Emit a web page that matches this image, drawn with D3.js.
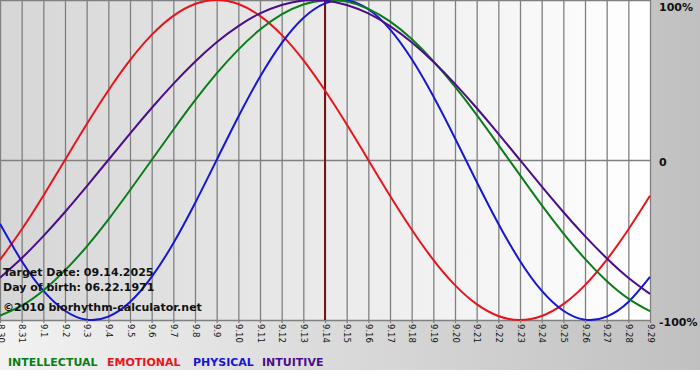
<!DOCTYPE html>
<html><head><meta charset="utf-8">
<script src="https://cdn.jsdelivr.net/npm/d3@7"></script>
<style>
html,body{margin:0;padding:0;background:#fff;}
svg{display:block;}
</style></head>
<body>
<script>
// ---- data ----
const dates = ["8.30","8.31","9.1","9.2","9.3","9.4","9.5","9.6","9.7","9.8","9.9","9.10","9.11","9.12","9.13","9.14","9.15","9.16","9.17","9.18","9.19","9.20","9.21","9.22","9.23","9.24","9.25","9.26","9.27","9.28","9.29"];
const physical = [-0.398,-0.631,-0.817,-0.942,-0.998,-0.979,-0.888,-0.731,-0.520,-0.270,0,0.270,0.520,0.731,0.888,0.979,0.998,0.942,0.817,0.631,0.398,0.136,-0.136,-0.398,-0.631,-0.817,-0.942,-0.998,-0.979,-0.888,-0.731];
const emotional = [-0.624,-0.434,-0.223,0,0.223,0.434,0.624,0.782,0.901,0.975,1,0.975,0.901,0.782,0.624,0.434,0.223,0,-0.223,-0.434,-0.624,-0.782,-0.901,-0.975,-1,-0.975,-0.901,-0.782,-0.624,-0.434,-0.223];
const intellectual = [-0.972,-0.910,-0.815,-0.690,-0.541,-0.372,-0.189,0,0.189,0.372,0.541,0.690,0.815,0.910,0.972,0.999,0.990,0.945,0.866,0.756,0.618,0.458,0.282,0.095,-0.095,-0.282,-0.458,-0.618,-0.756,-0.866,-0.945];
const intuitive = [-0.736,-0.614,-0.476,-0.325,-0.165,0,0.165,0.325,0.476,0.614,0.736,0.837,0.916,0.969,0.997,0.997,0.969,0.916,0.837,0.736,0.614,0.476,0.325,0.165,0,-0.165,-0.325,-0.476,-0.614,-0.736,-0.837];
const seriesNames = ["INTELLECTUAL","EMOTIONAL","PHYSICAL","INTUITIVE"];
const yTicks = [1, 0, -1];
const yTickLabels = ["100%", "0", "-100%"];
const targetDate = "9.14";
const infoLines = ["Target Date: 09.14.2025", "Day of birth: 06.22.1971", "\u00A92010 biorhythm-calculator.net"];

// ---- drawing ----
const W = 700, H = 380, plotW = 650, plotH = 320;
const colors = {INTELLECTUAL:"#0b7d18", EMOTIONAL:"#e8141c", PHYSICAL:"#1616d6", INTUITIVE:"#4b0d8a"};
const seriesData = {INTELLECTUAL:intellectual, EMOTIONAL:emotional, PHYSICAL:physical, INTUITIVE:intuitive};
const drawOrder = ["EMOTIONAL","PHYSICAL","INTELLECTUAL","INTUITIVE"];

const svg = d3.select("body").append("svg").attr("width", W).attr("height", H);
const defs = svg.append("defs");
const g1 = defs.append("linearGradient").attr("id","bgGrad").attr("x1","0").attr("x2","1").attr("y1","0").attr("y2","0");
g1.append("stop").attr("offset","0").attr("stop-color","#f2f2f2");
g1.append("stop").attr("offset","1").attr("stop-color","#c0c0c0");
const g2 = defs.append("linearGradient").attr("id","plotGrad").attr("x1","0").attr("x2","1").attr("y1","0").attr("y2","0");
g2.append("stop").attr("offset","0").attr("stop-color","#d6d6d6");
g2.append("stop").attr("offset","1").attr("stop-color","#ffffff");
defs.append("clipPath").attr("id","clip").append("rect").attr("x",0).attr("y",0).attr("width",plotW+1).attr("height",plotH+1);

svg.append("rect").attr("x",0).attr("y",0).attr("width",W).attr("height",370).attr("fill","url(#bgGrad)");
svg.append("rect").attr("x",0).attr("y",0).attr("width",plotW).attr("height",plotH).attr("fill","url(#plotGrad)");

const x = d3.scalePoint().domain(dates).range([0, plotW]);
const y = d3.scaleLinear().domain([-1, 1]).range([plotH, 0]);

// vertical grid
const grid = svg.append("g").attr("transform", `translate(0,${plotH})`)
  .call(d3.axisBottom(x).tickSizeInner(-plotH).tickSizeOuter(0).tickFormat(""));
grid.select(".domain").remove();
grid.selectAll("line").attr("stroke","#808080").attr("stroke-width",1.3);

// horizontal lines
const hgrid = svg.append("g").call(d3.axisLeft(y).tickValues(yTicks).tickSizeInner(-plotW).tickSizeOuter(0).tickFormat(""));
hgrid.select(".domain").remove();
hgrid.selectAll("line").attr("stroke","#808080").attr("stroke-width",1.3);

// target line
svg.append("line").attr("x1",x(targetDate)).attr("x2",x(targetDate)).attr("y1",0).attr("y2",plotH)
  .attr("stroke","#7a1212").attr("stroke-width",2);

// curves
const line = d3.line().x((d,i)=>x(dates[i])).y(d=>y(d)).curve(d3.curveNatural);
const curves = svg.append("g").attr("clip-path","url(#clip)");
drawOrder.forEach(n=>{
  curves.append("path").datum(seriesData[n]).attr("d", line)
    .attr("fill","none").attr("stroke", colors[n]).attr("stroke-width",2);
});

// x axis labels
const xa = svg.append("g").attr("transform", `translate(0,${plotH})`)
  .call(d3.axisBottom(x).tickSizeInner(3).tickSizeOuter(0));
xa.select(".domain").remove();
xa.selectAll("line").attr("stroke","#808080").attr("stroke-width",1.3);
xa.selectAll("text")
  .attr("transform","rotate(90)")
  .attr("x", 4).attr("y", 0).attr("dy","0.32em")
  .attr("text-anchor","start")
  .style("font-family","'DejaVu Sans', Verdana, sans-serif")
  .style("font-size","8.5px").attr("fill","#111");

// right labels
svg.append("g").selectAll("text").data(yTicks).join("text")
  .attr("x", 659).attr("y", (d)=>Math.max(y(d)+6, 11))
  .text((d,i)=>yTickLabels[i])
  .style("font-family","'DejaVu Sans', Verdana, sans-serif").style("font-size","11px").style("font-weight","bold")
  .attr("fill","#111");

// info text
const infoY = [276, 291, 311];
svg.append("g").selectAll("text").data(infoLines).join("text")
  .attr("x", 3).attr("y", (d,i)=>infoY[i]).text(d=>d)
  .style("font-family","'DejaVu Sans', Verdana, sans-serif").style("font-size","11px").style("font-weight","bold")
  .attr("fill","#111");

// legend
const legX = [8, 107, 193, 262];
svg.append("g").selectAll("text").data(seriesNames).join("text")
  .attr("x", (d,i)=>legX[i]).attr("y", 366).text(d=>d)
  .style("font-family","'DejaVu Sans', Verdana, sans-serif").style("font-size","11px").style("font-weight","bold")
  .attr("fill", d=>colors[d]);
</script>
</body></html>
